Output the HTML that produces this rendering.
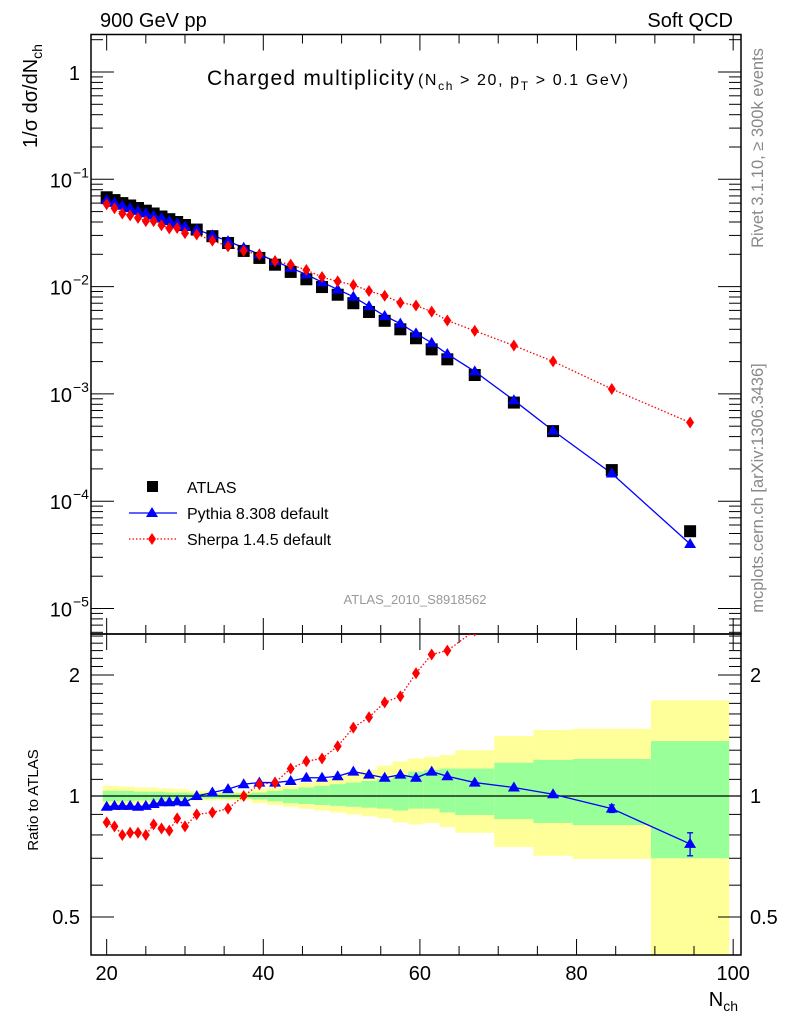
<!DOCTYPE html>
<html><head><meta charset="utf-8"><style>
html,body{margin:0;padding:0;background:#fff;}
svg{display:block;font-family:"Liberation Sans",sans-serif;}
</style></head><body>
<svg id="chart" width="786" height="1024" viewBox="0 0 786 1024" xmlns="http://www.w3.org/2000/svg">
<g id="bands"></g>
<g id="grid"></g>
<g id="series"></g>
<text x="100" y="27" font-size="20">900 GeV pp</text>
<text x="733" y="27" font-size="20" text-anchor="end">Soft QCD</text>
<text x="207" y="85" font-size="21" textLength="207">Charged multiplicity</text>
<text x="418" y="85" font-size="16" textLength="210">(N<tspan font-size="12" dy="5">ch</tspan><tspan dy="-5"> &gt; 20, p</tspan><tspan font-size="12" dy="5">T</tspan><tspan dy="-5"> &gt; 0.1 GeV)</tspan></text>
<text transform="translate(37,96) rotate(-90)" font-size="20" text-anchor="middle">1/σ dσ/dN<tspan font-size="14" dy="5">ch</tspan></text>
<text transform="translate(38,800) rotate(-90)" font-size="15" text-anchor="middle">Ratio to ATLAS</text>
<text x="738" y="1006" font-size="20" text-anchor="end">N<tspan font-size="14" dy="5">ch</tspan></text>
<text transform="translate(763,148) rotate(-90)" font-size="16.5" fill="#888" text-anchor="middle">Rivet 3.1.10, ≥ 300k events</text>
<text transform="translate(763,488) rotate(-90)" font-size="16.5" fill="#888" text-anchor="middle">mcplots.cern.ch [arXiv:1306.3436]</text>
<text x="415" y="604" font-size="13" fill="#999" text-anchor="middle">ATLAS_2010_S8918562</text>
<g>
<g><rect x="147" y="481" width="11" height="11" fill="#000"/><text x="187" y="493" font-size="16">ATLAS</text></g>
<g><line x1="129" y1="513" x2="177" y2="513" stroke="#00f" stroke-width="1.3"/><polygon points="152,507 158,517 146,517" fill="#00f"/><text x="187" y="519" font-size="16">Pythia 8.308 default</text></g>
<g><line x1="129" y1="539" x2="177" y2="539" stroke="#f00" stroke-width="1.3" stroke-dasharray="1.5,2"/><polygon points="152,533 156,539 152,545 148,539" fill="#f00"/><text x="187" y="545" font-size="16">Sherpa 1.4.5 default</text></g>
</g>
</svg>
<script>
const nch = [20,21,22,23,24,25,26,27,28,29,30,31.5,33.5,35.5,37.5,39.5,41.5,43.5,45.5,47.5,49.5,51.5,53.5,55.5,57.5,59.5,61.5,63.5,67,72,77,84.5,94.5];
const binLo = [19.5,20.5,21.5,22.5,23.5,24.5,25.5,26.5,27.5,28.5,29.5,30.5,32.5,34.5,36.5,38.5,40.5,42.5,44.5,46.5,48.5,50.5,52.5,54.5,56.5,58.5,60.5,62.5,64.5,69.5,74.5,79.5,89.5];
const binHi = [20.5,21.5,22.5,23.5,24.5,25.5,26.5,27.5,28.5,29.5,30.5,32.5,34.5,36.5,38.5,40.5,42.5,44.5,46.5,48.5,50.5,52.5,54.5,56.5,58.5,60.5,62.5,64.5,69.5,74.5,79.5,89.5,99.5];
const atlas = [0.068,0.064,0.060,0.057,0.054,0.051,0.048,0.045,0.0425,0.040,0.0375,0.034,0.0295,0.0255,0.0215,0.0185,0.016,0.0137,0.0117,0.0099,0.0084,0.0070,0.0058,0.0048,0.0040,0.0033,0.0026,0.0021,0.00150,0.00083,0.00045,0.000195,0.0000525];
const pythiaRatio = [0.94,0.945,0.945,0.945,0.94,0.945,0.955,0.965,0.965,0.97,0.965,1.0,1.02,1.04,1.07,1.08,1.08,1.09,1.11,1.11,1.12,1.15,1.13,1.11,1.13,1.11,1.15,1.12,1.08,1.05,1.01,0.93,0.76];
const sherpaRatio = [0.86,0.84,0.80,0.81,0.81,0.80,0.85,0.83,0.82,0.88,0.84,0.90,0.91,0.93,1.0,1.07,1.08,1.17,1.22,1.24,1.33,1.48,1.57,1.71,1.77,2.02,2.25,2.30,2.58,3.4,4.46,5.7,10.3];
const yellowHi = [1.06,1.06,1.055,1.055,1.05,1.05,1.05,1.045,1.045,1.04,1.04,1.03,1.03,1.025,1.025,1.04,1.05,1.06,1.08,1.10,1.12,1.14,1.16,1.19,1.22,1.24,1.25,1.265,1.30,1.41,1.46,1.47,1.73];
const yellowLo = [0.95,0.95,0.955,0.955,0.96,0.96,0.96,0.965,0.965,0.965,0.97,0.975,0.975,0.975,0.975,0.96,0.95,0.94,0.93,0.92,0.91,0.90,0.89,0.88,0.86,0.85,0.857,0.837,0.81,0.747,0.71,0.697,0.3];
const greenHi = [1.03,1.03,1.03,1.03,1.025,1.025,1.025,1.025,1.02,1.02,1.02,1.015,1.015,1.015,1.015,1.02,1.03,1.04,1.05,1.06,1.07,1.08,1.09,1.10,1.12,1.15,1.16,1.17,1.17,1.21,1.23,1.236,1.37];
const greenLo = [0.97,0.97,0.97,0.97,0.975,0.975,0.975,0.975,0.98,0.98,0.98,0.985,0.985,0.985,0.985,0.98,0.97,0.96,0.955,0.95,0.945,0.94,0.935,0.93,0.92,0.93,0.93,0.91,0.897,0.876,0.857,0.847,0.70];
const pythiaErr = [0,0,0,0,0,0,0,0,0,0,0,0,0,0,0,0,0,0,0,0,0,0,0,0,0,0,0,0,0,0,0,0.02,0.05];
const mainTickLabels = ["1","10","10","10","10","10"];
const mainTickExps = [0,-1,-2,-3,-4,-5];
const ratioTickLabels = ["0.5","1","2"];
const ratioTickVals = [0.5,1,2];
const xTickVals = [20,40,60,80,100];

const NS="http://www.w3.org/2000/svg";
const L=91,R=741,T=34.5,M=634,B=955;
const XMIN=18,XMAX=101;
function xs(v){return L+(v-XMIN)/(XMAX-XMIN)*(R-L);}
function ys(v){return 72-107.3*Math.log10(v);}
function yr(v){return 796-121*Math.log2(v);}
function mk(parent,tag,attrs){const e=document.createElementNS(NS,tag);for(const k in attrs)e.setAttribute(k,attrs[k]);parent.appendChild(e);return e;}
const gB=document.getElementById('bands'),gG=document.getElementById('grid'),gS=document.getElementById('series');
const clipDefs=mk(document.getElementById('chart'),'defs',{});
const c1=mk(clipDefs,'clipPath',{id:'cm'});mk(c1,'rect',{x:L,y:T,width:R-L,height:M-T});
const c2=mk(clipDefs,'clipPath',{id:'cr'});mk(c2,'rect',{x:L,y:M,width:R-L,height:B-M});
gB.setAttribute('clip-path','url(#cr)');

for(let i=0;i<nch.length;i++){
  const x0=xs(binLo[i]),x1=xs(binHi[i]);
  const ry=mk(gB,'rect',{x:x0,y:yr(yellowHi[i]),width:x1-x0,height:yr(yellowLo[i])-yr(yellowHi[i]),fill:'#ffff99'});
  
  
  const rg=mk(gB,'rect',{x:x0,y:yr(greenHi[i]),width:x1-x0,height:yr(greenLo[i])-yr(greenHi[i]),fill:'#99ff99'});
  
  
}
mk(gG,'line',{x1:L,y1:yr(1),x2:R,y2:yr(1),stroke:'#000','stroke-width':1.2});
mk(gG,'rect',{x:L,y:T,width:R-L,height:M-T,fill:'none',stroke:'#000','stroke-width':1.5});
mk(gG,'rect',{x:L,y:M,width:R-L,height:B-M,fill:'none',stroke:'#000','stroke-width':1.5});
for(let d=-6;d<=0;d++){
  for(let m=1;m<=9;m++){
    const v=m*Math.pow(10,d);const y=ys(v);
    if(y<T||y>M)continue;
    const len=m===1?23:12;
    mk(gG,'line',{x1:L,y1:y,x2:L+len,y2:y,stroke:'#000','stroke-width':1});
    mk(gG,'line',{x1:R,y1:y,x2:R-len,y2:y,stroke:'#000','stroke-width':1});
  }
}
for(let i=0;i<mainTickExps.length;i++){
  const y=ys(Math.pow(10,mainTickExps[i]));
  const t=mk(gG,'text',{x:mainTickExps[i]===0?80:72,y:y+8,'font-size':20,'text-anchor':'end'});
  
  
  t.textContent=mainTickLabels[i];
  if(mainTickExps[i]!==0){
    const s=mk(gG,'text',{x:73,y:y-2,'font-size':14});
    s.textContent='−'+(-mainTickExps[i]);
  }
}
for(let k=4;k<=25;k++){
  const v=k/10;const y=yr(v);if(y<M||y>B)continue;
  const major=(k===5||k===10||k===20);const len=major?23:12;
  mk(gG,'line',{x1:L,y1:y,x2:L+len,y2:y,stroke:'#000','stroke-width':1});
  mk(gG,'line',{x1:R,y1:y,x2:R-len,y2:y,stroke:'#000','stroke-width':1});
}
for(let i=0;i<ratioTickVals.length;i++){
  const y=yr(ratioTickVals[i]);
  const t=mk(gG,'text',{x:80,y:y+7,'font-size':20,'text-anchor':'end'});
  
  
  t.textContent=ratioTickLabels[i];
  const t2=mk(gG,'text',{x:750,y:y+7,'font-size':20});
  
  
  t2.textContent=ratioTickLabels[i];
}
for(let v=20;v<=100;v+=5){
  const x=xs(v);const len=(v%20===0)?16:9;
  [[T,1],[M,-1],[M,1],[B,-1]].forEach(([y0,dir])=>{
    mk(gG,'line',{x1:x,y1:y0,x2:x,y2:y0+dir*len,stroke:'#000','stroke-width':1});
  });
}
for(const v of xTickVals){
  const t=mk(gG,'text',{x:xs(v),y:980,'font-size':20,'text-anchor':'middle'});
  
  
  t.textContent=String(v);
}
const gm=mk(gS,'g',{'clip-path':'url(#cm)'});
const gr=mk(gS,'g',{'clip-path':'url(#cr)'});
const pythia=atlas.map((a,i)=>a*pythiaRatio[i]);
const sherpa=atlas.map((a,i)=>a*sherpaRatio[i]);
function poly(g,vals,yf,color,dash,name){
  const p=mk(g,'polyline',{points:vals.map((v,i)=>xs(nch[i])+','+yf(v)).join(' '),fill:'none',stroke:color,'stroke-width':1.3});
  if(dash)p.setAttribute('stroke-dasharray',dash);
  
  
}
function tri(g,x,y,name){const p=mk(g,'polygon',{points:`${x},${y-6} ${x+6},${y+4} ${x-6},${y+4}`,fill:'#00f'});}
function dia(g,x,y,name){const p=mk(g,'polygon',{points:`${x},${y-6} ${x+4},${y} ${x},${y+6} ${x-4},${y}`,fill:'#f00'});}
poly(gm,sherpa,ys,'#f00','1.5,2','sherpa-line');
poly(gm,pythia,ys,'#00f',null,'pythia-line');
atlas.forEach((v,i)=>{const r=mk(gm,'rect',{x:xs(nch[i])-6,y:ys(v)-6,width:12,height:12,fill:'#000'});
  
  });
pythia.forEach((v,i)=>tri(gm,xs(nch[i]),ys(v),'pythia-point'));
sherpa.forEach((v,i)=>dia(gm,xs(nch[i]),ys(v),'sherpa-point'));
poly(gr,sherpaRatio,yr,'#f00','1.5,2','sherpa-ratio-line');
poly(gr,pythiaRatio,yr,'#00f',null,'pythia-ratio-line');
pythiaRatio.forEach((v,i)=>{
  if(pythiaErr[i]>0){const x=xs(nch[i]);
    mk(gr,'line',{x1:x,y1:yr(v+pythiaErr[i]),x2:x,y2:yr(v-pythiaErr[i]),stroke:'#00f','stroke-width':1.3});
    mk(gr,'line',{x1:x-3,y1:yr(v+pythiaErr[i]),x2:x+3,y2:yr(v+pythiaErr[i]),stroke:'#00f','stroke-width':1.3});
    mk(gr,'line',{x1:x-3,y1:yr(v-pythiaErr[i]),x2:x+3,y2:yr(v-pythiaErr[i]),stroke:'#00f','stroke-width':1.3});}
  tri(gr,xs(nch[i]),yr(v),'pythia-ratio-point');
});
sherpaRatio.forEach((v,i)=>dia(gr,xs(nch[i]),yr(v),'sherpa-ratio-point'));
</script>
</body></html>
